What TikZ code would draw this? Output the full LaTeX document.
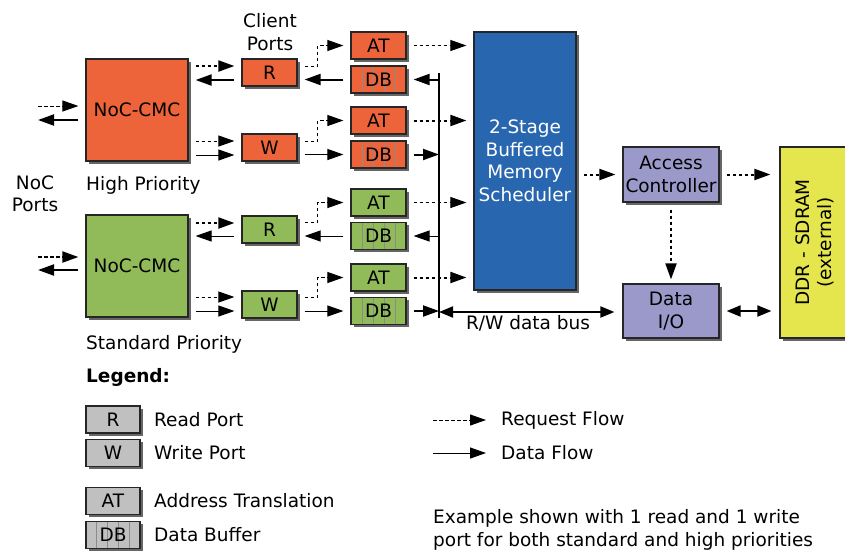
\documentclass[tikz,border=0pt]{standalone}
\usepackage{fontspec}
\setmainfont{DejaVu Sans}
\usepackage{xcolor}
\usetikzlibrary{arrows.meta, positioning, calc, shadows}
\definecolor{hiorange}{RGB}{237, 99, 58}
\definecolor{stdgreen}{RGB}{145, 187, 89}
\definecolor{schedblue}{RGB}{40, 102, 176}
\definecolor{ctrlpurple}{RGB}{155, 153, 201}
\definecolor{ddryellow}{RGB}{229, 229, 77}
\definecolor{legendgray}{RGB}{192, 192, 192}
\tikzstyle{block} = [rectangle, draw=black!85, line width=1.2pt, text centered, inner sep=0pt, drop shadow={shadow xshift=2.5pt, shadow yshift=-2.5pt, fill=black!60, opacity=1}]
\tikzstyle{cmc} = [block, minimum width=102pt, minimum height=102pt]
\tikzstyle{port} = [block, minimum width=55pt, minimum height=27pt]
\tikzstyle{buffer} = [port, path picture={\foreach \f in {0.2,0.4,0.6,0.8} \draw[black!45, line width=1pt] ($(path picture bounding box.south west)!\f!(path picture bounding box.south east)$) -- ($(path picture bounding box.north west)!\f!(path picture bounding box.north east)$);}]
\tikzstyle{lbl} = [inner sep=0pt, align=center]
\tikzstyle{req} = [-{Triangle[length=16pt, width=11pt]}, dash pattern=on 3.5pt off 2.5pt, line width=1pt, shorten >=7pt, shorten <=7pt]
\tikzstyle{reqthick} = [req, line width=2pt]
\tikzstyle{data} = [-{Triangle[length=16pt, width=11pt]}, line width=1pt, shorten >=7pt, shorten <=7pt]
\tikzstyle{datathick} = [data, line width=2pt]
\tikzstyle{both} = [{Triangle[length=14pt, width=11pt]}-{Triangle[length=14pt, width=11pt]}]

\begin{document}
\begin{tikzpicture}[x=1pt, y=-1pt, font=\fontsize{18.5}{22.5}\selectfont]
    \useasboundingbox (0,0) rectangle (845,550);

    % Memory controller clients
    \node[cmc, fill=hiorange] (hicmc) at (137,110) {NoC-CMC};
    \node[cmc, fill=stdgreen] (stdcmc) at (137,266) {NoC-CMC};

    % Client ports
    \node[port, fill=hiorange] (hiR) at (269.5,72.5) {R};
    \node[port, fill=hiorange] (hiW) at (269.5,147.5) {W};
    \node[port, fill=stdgreen] (stdR) at (269.5,229.5) {R};
    \node[port, fill=stdgreen] (stdW) at (269.5,304.5) {W};

    % Address translation and data buffers
    \node[port, fill=hiorange] (hiRat) at (378.5,45.5) {AT};
    \node[buffer, fill=hiorange] (hiRdb) at (378.5,79.5) {DB};
    \node[port, fill=hiorange] (hiWat) at (378.5,120.5) {AT};
    \node[buffer, fill=hiorange] (hiWdb) at (378.5,154.5) {DB};
    \node[port, fill=stdgreen] (stdRat) at (378.5,202.5) {AT};
    \node[buffer, fill=stdgreen] (stdRdb) at (378.5,236) {DB};
    \node[port, fill=stdgreen] (stdWat) at (378.5,277.5) {AT};
    \node[buffer, fill=stdgreen] (stdWdb) at (378.5,311) {DB};

    % Scheduler, controller, memory
    \node[block, fill=schedblue, minimum width=102pt, minimum height=258pt, text=white, align=center] (sched) at (525,161) {2-Stage\\Buffered\\Memory\\Scheduler};
    \node[block, fill=ctrlpurple, minimum width=96pt, minimum height=55pt, align=center] (access) at (671,174.5) {Access\\Controller};
    \node[block, fill=ctrlpurple, minimum width=96pt, minimum height=54pt, align=center] (dataio) at (671,311) {Data\\I/O};
    \node[block, fill=ddryellow, minimum width=68pt, minimum height=191pt] (ddr) at (814,242.5) {};
    \node[lbl, rotate=90] (ddrtext) at ([xshift=1pt]ddr.center) {DDR - SDRAM\\(external)};

    % Labels
    \node[lbl] (clientlbl) at (270,32) {Client\\Ports};
    \node[lbl] (noclbl) at (35,194) {NoC\\Ports};
    \node[lbl, anchor=west] (hilbl) at (86,185) {High Priority};
    \node[lbl, anchor=west] (stdlbl) at (86,344) {Standard Priority};
    \node[lbl] (buslbl) at (528,323) {R/W data bus};

    % NoC ports
    \coordinate (hiportin) at (38,106);
    \coordinate (hiportout) at (38,120);
    \coordinate (stdportin) at (38,257);
    \coordinate (stdportout) at (38,270);
    \draw[req, shorten <=0pt] (hiportin) -- (hiportin -| hicmc.west);
    \draw[datathick, shorten >=0pt] (hiportout -| hicmc.west) -- (hiportout);
    \draw[reqthick, shorten <=0pt] (stdportin) -- (stdportin -| stdcmc.west);
    \draw[datathick, shorten >=0pt] (stdportout -| stdcmc.west) -- (stdportout);

    % CMC to client ports
    \draw[reqthick] ([yshift=6.5pt]hiR.west -| hicmc.east) -- ([yshift=6.5pt]hiR.west);
    \draw[datathick] ([yshift=-7.5pt]hiR.west) -- ([yshift=-7.5pt]hiR.west -| hicmc.east);
    \draw[req] ([yshift=6.5pt]hiW.west -| hicmc.east) -- ([yshift=6.5pt]hiW.west);
    \draw[data] ([yshift=-7.5pt]hiW.west -| hicmc.east) -- ([yshift=-7.5pt]hiW.west);
    \draw[reqthick] ([yshift=6.5pt]stdR.west -| stdcmc.east) -- ([yshift=6.5pt]stdR.west);
    \draw[data] ([yshift=-6.5pt]stdR.west) -- ([yshift=-6.5pt]stdR.west -| stdcmc.east);
    \draw[req] ([yshift=7.5pt]stdW.west -| stdcmc.east) -- ([yshift=7.5pt]stdW.west);
    \draw[data] ([yshift=-6.5pt]stdW.west -| stdcmc.east) -- ([yshift=-6.5pt]stdW.west);

    % Client ports to AT / DB
    \draw[req] ([yshift=6.5pt]hiR.east) -- ++(20,0) |- (hiRat.west);
    \draw[datathick] (hiRdb.west) -- (hiRdb.west -| hiR.east);
    \draw[req] ([yshift=6.5pt]hiW.east) -- ++(20,0) |- (hiWat.west);
    \draw[data] (hiWdb.west -| hiW.east) -- (hiWdb.west);
    \draw[req] ([yshift=7.5pt]stdR.east) -- ++(20,0) |- (stdRat.west);
    \draw[data] (stdRdb.west) -- (stdRdb.west -| stdR.east);
    \draw[req] ([yshift=7.5pt]stdW.east) -- ++(20,0) |- (stdWat.west);
    \draw[data] (stdWdb.west -| stdW.east) -- (stdWdb.west);

    % Data bus
    \coordinate (bustop) at (439,73);
    \coordinate (busbot) at (439,318);
    \draw[line width=2pt] (bustop) -- (busbot);
    \draw[datathick, shorten <=0pt] (hiRdb.east -| bustop) -- (hiRdb.east);
    \draw[datathick, shorten >=0pt] (hiWdb.east) -- (hiWdb.east -| bustop);
    \draw[data, shorten <=0pt] (stdRdb.east -| bustop) -- (stdRdb.east);
    \draw[datathick, shorten >=0pt] (stdWdb.east) -- (stdWdb.east -| bustop);
    \draw[datathick, both, shorten <=0pt, shorten >=8pt] ([yshift=-1pt]stdWdb.east -| bustop) -- ([yshift=-1pt]stdWdb.east -| dataio.west);

    % AT to scheduler
    \draw[req] (hiRat.east) -- (hiRat.east -| sched.west);
    \draw[reqthick] (hiWat.east) -- (hiWat.east -| sched.west);
    \draw[req] (stdRat.east) -- (stdRat.east -| sched.west);
    \draw[reqthick] (stdWat.east) -- (stdWat.east -| sched.west);

    % Scheduler to memory
    \draw[reqthick] (access.west -| sched.east) -- (access.west);
    \draw[reqthick, shorten >=9pt] (access.east) -- (access.east -| ddr.west);
    \draw[reqthick, shorten >=4pt] (access.south) -- (dataio.north);
    \draw[datathick, both, shorten >=8pt] (dataio.east) -- (dataio.east -| ddr.west);

    % Legend
    \node[lbl, anchor=west] (legendlbl) at (86,377) {\textbf{Legend:}};
    \node[port, fill=legendgray, minimum width=54pt] (lgR) at (113,419.5) {R};
    \node[port, fill=legendgray, minimum width=54pt] (lgW) at (113,453) {W};
    \node[port, fill=legendgray, minimum width=54pt] (lgAT) at (113,501) {AT};
    \node[buffer, fill=legendgray, minimum width=54pt] (lgDB) at (113,535) {DB};
    \node[lbl, anchor=west] (lgRtxt) at (154,420) {Read Port};
    \node[lbl, anchor=west] (lgWtxt) at (154,453) {Write Port};
    \node[lbl, anchor=west] (lgATtxt) at (154,501) {Address Translation};
    \node[lbl, anchor=west] (lgDBtxt) at (154,535) {Data Buffer};

    \coordinate (lgreqa) at (433,420);
    \coordinate (lgreqb) at (486,420);
    \coordinate (lgdataa) at (433,453);
    \coordinate (lgdatab) at (486,453);
    \draw[req, shorten <=0pt, shorten >=0pt] (lgreqa) -- (lgreqb);
    \draw[data, shorten <=0pt, shorten >=0pt] (lgdataa) -- (lgdatab);
    \node[lbl, anchor=west] (lgreqtxt) at (501,420) {Request Flow};
    \node[lbl, anchor=west] (lgdatatxt) at (501,453) {Data Flow};

    \node[lbl, anchor=west, align=left] (note) at (433,530) {Example shown with 1 read and 1 write\\port for both standard and high priorities};
\end{tikzpicture}
\end{document}
